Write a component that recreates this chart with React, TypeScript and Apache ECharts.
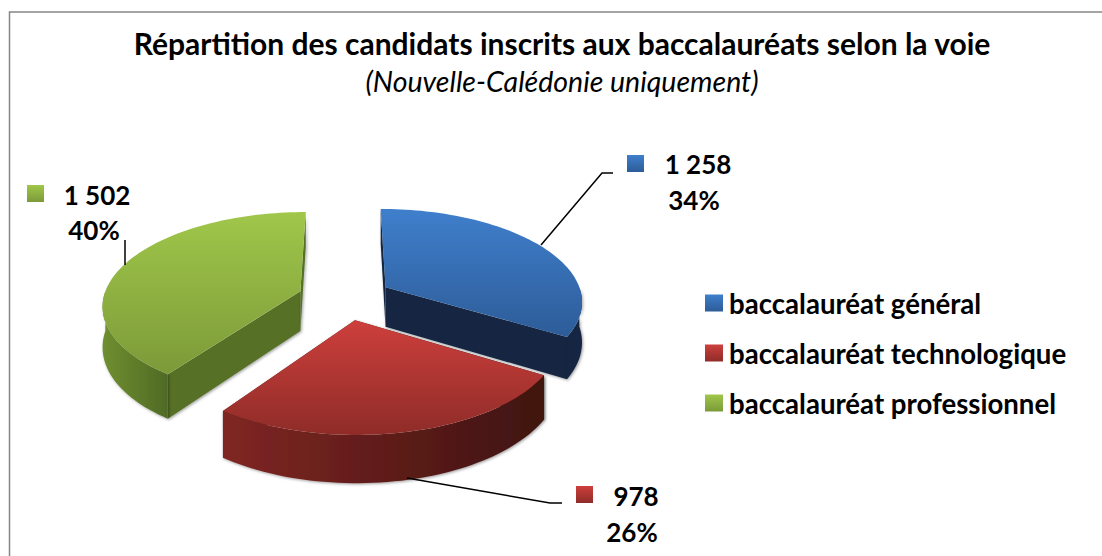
import React, { useEffect, useRef } from "react";
import * as echarts from "echarts";

const categories = ["baccalauréat général", "baccalauréat technologique", "baccalauréat professionnel"];
const values = [1258, 978, 1502];
const titleText = "Répartition des candidats inscrits aux baccalauréats selon la voie";
const subtitleText = "(Nouvelle-Calédonie uniquement)";

const total = values.reduce((a, b) => a + b, 0);
const FONT = "Lato";

// projection of the tilted pie
const CX = 345, CY = 298, RX = 197, KY = 92, PERSP = 0.138, EXPLODE = 0.24, DEPTH = 40;

const palette = [
  { top: ["#3f7fcc", "#2d5c98"], wall: ["#15304f", "#132842"], cut: "#132842", key: ["#3f7fcc", "#2d5c98"] },
  { top: ["#cd3f3c", "#8f2c28"], wall: ["#802623", "#3f1310"], cut: "#4a1512", key: ["#cd3f3c", "#8f2c28"] },
  { top: ["#a0c74a", "#7c9a39"], wall: ["#6f8f30", "#4f6a25"], cut: "#566f27", key: ["#a0c74a", "#7c9a39"] },
];
const labelLayout = [
  { marker: [627, 155], num: [698, 164], pct: [694, 200], leader: [[613, 173], [602, 173], [541, 245]] },
  { marker: [576, 486], num: [636, 496], pct: [632, 532], leader: [[562, 503], [550, 503], [407, 478]] },
  { marker: [27, 185], num: [97, 195], pct: [94, 230], leader: [[125, 240], [125, 265]] },
];
const grad = (c: string[]) => ({
  type: "linear", x: 0, y: 0, x2: 0, y2: 1,
  colorStops: [{ offset: 0, color: c[0] }, { offset: 1, color: c[1] }],
});
const gradH = (c: string[]) => ({
  type: "linear", x: 0, y: 0, x2: 1, y2: 0,
  colorStops: [{ offset: 0, color: c[0] }, { offset: 1, color: c[1] }],
});

function project(wx: number, wz: number, depth: number): number[] {
  const s = 1 / (1 + PERSP * wz);
  return [CX + wx * RX * s, CY - KY * wz * s + depth * DEPTH * s];
}

function sliceGeom(index: number) {
  let start = 0;
  for (let i = 0; i < index; i++) start += (values[i] / total) * Math.PI * 2;
  const end = start + (values[index] / total) * Math.PI * 2;
  const mid = (start + end) / 2;
  const ex = Math.sin(mid) * EXPLODE, ez = Math.cos(mid) * EXPLODE;
  const rim = (a: number, d: number) => project(ex + Math.sin(a), ez + Math.cos(a), d);
  const apex = (d: number) => project(ex, ez, d);
  const arc = (a0: number, a1: number, d: number) => {
    const pts: number[][] = [];
    const n = Math.max(2, Math.ceil(Math.abs(a1 - a0) / 0.03));
    for (let i = 0; i <= n; i++) pts.push(rim(a0 + ((a1 - a0) * i) / n, d));
    return pts;
  };
  return { start, end, rim, apex, arc };
}

const poly = (pts: number[][], fill: any, shadow = false) => ({
  type: "polygon",
  shape: { points: pts },
  style: shadow
    ? { fill, shadowBlur: 3, shadowColor: "rgba(0,0,0,0.4)", shadowOffsetX: 1, shadowOffsetY: 1 }
    : { fill },
});

function renderSlice(index: number) {
  return () => {
    const g = sliceGeom(index);
    const c = palette[index];
    const L = labelLayout[index];
    const children: any[] = [];
    const a0 = Math.max(g.start, Math.PI / 2), a1 = Math.min(g.end, (3 * Math.PI) / 2);
    // cut faces
    const wallFor = (a: number) => poly([g.apex(0), g.rim(a, 0), g.rim(a, 1), g.apex(1)], c.cut, true);
    children.push(wallFor(g.start));
    children.push(wallFor(g.end));
    // outer wall: the part of the rim facing the viewer
    if (a1 > a0) {
      const top = g.arc(a0, a1, 0), bot = g.arc(a0, a1, 1).reverse();
      children.push(poly([...top, ...bot], index === 0 ? c.cut : gradH(c.wall), true));
    }
    children.push(poly([g.apex(0), ...g.arc(g.start, g.end, 0)], grad(c.top)));
    // leader
    children.push({ type: "polyline", shape: { points: L.leader }, style: { stroke: "#000", lineWidth: 1.5, fill: "none" } });
    // key square
    children.push({ type: "rect", shape: { x: L.marker[0], y: L.marker[1], width: 17, height: 17 }, style: { fill: grad(c.key) } });
    const v = values[index];
    const numText = v >= 1000 ? `${Math.floor(v / 1000)} ${String(v % 1000).padStart(3, "0")}` : String(v);
    const pctText = `${Math.round((v / total) * 100)}%`;
    const textStyle = { fontFamily: FONT, fontWeight: "bold", fontSize: 26, fill: "#000", align: "center", verticalAlign: "middle" };
    children.push({ type: "text", x: L.num[0], y: L.num[1], style: { ...textStyle, text: numText } });
    children.push({ type: "text", x: L.pct[0], y: L.pct[1], style: { ...textStyle, text: pctText } });
    return { type: "group", children };
  };
}

const drawOrder = [2, 0, 1];

export default function App() {
  const ref = useRef<HTMLDivElement>(null);
  useEffect(() => {
    document.body.style.margin = "0";
    const chart = echarts.init(ref.current!, undefined, { renderer: "svg" });
    chart.setOption({
      animation: false,
      backgroundColor: "#fff",
      title: {
        text: titleText,
        subtext: subtitleText,
        left: 557,
        top: 23,
        textAlign: "center",
        itemGap: 8,
        textStyle: { fontFamily: FONT, fontWeight: "bold", fontSize: 30, color: "#000" },
        subtextStyle: { fontFamily: FONT, fontStyle: "italic", fontSize: 28.5, color: "#000" },
      },
      legend: {
        orient: "vertical",
        left: 700,
        top: 284,
        itemWidth: 18,
        itemHeight: 17,
        itemGap: 22,
        selectedMode: false,
        textStyle: { fontFamily: FONT, fontWeight: "bold", fontSize: 27.6, color: "#000", padding: [0, 0, 0, 1] },
        data: categories.map((name, i) => ({ name, icon: "rect", itemStyle: { color: grad(palette[i].key) } })),
      },
      graphic: [
        { type: "polyline", z: -10, shape: { points: [[9.5, 560], [9.5, 12], [1102, 12]] }, style: { fill: "none", stroke: "#868686", lineWidth: 1.5 } },
      ],
      series: drawOrder.map((i) => ({
        type: "custom",
        name: categories[i],
        coordinateSystem: "none",
        silent: true,
        data: [[values[i]]],
        renderItem: renderSlice(i),
      })),
    });
    return () => chart.dispose();
  }, []);
  return <div ref={ref} style={{ width: 1102, height: 556, position: "fixed", left: 0, top: 0 }} />;
}
